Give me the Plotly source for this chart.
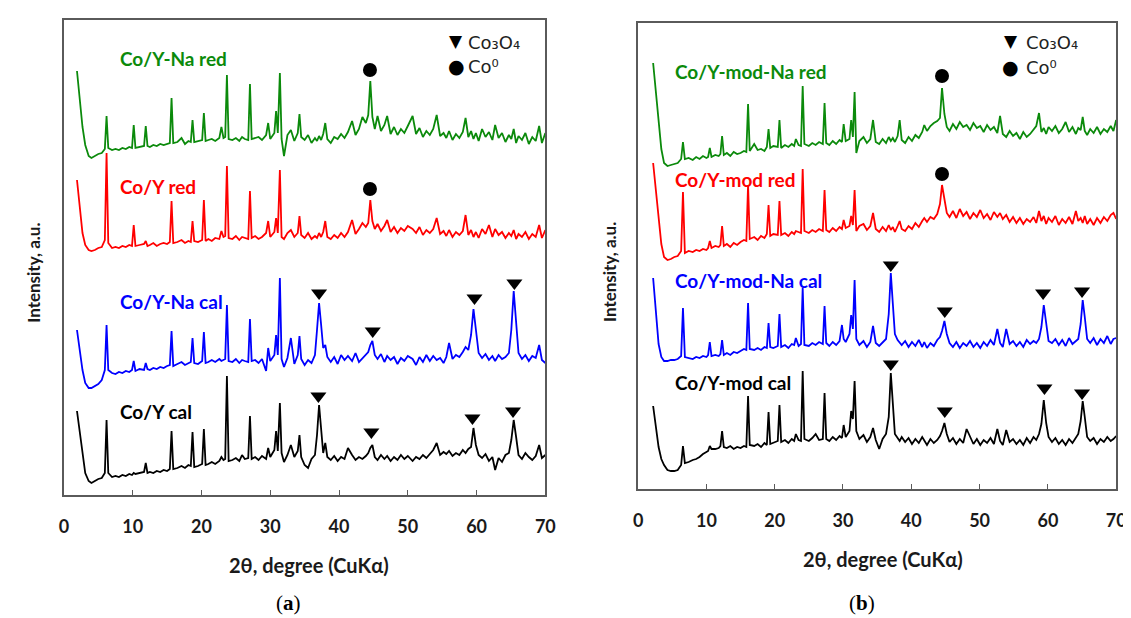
import plotly.graph_objects as go

W, H = 1131, 618

# ---------------- Panel (a) data: 2theta grid and intensities (a.u.) ----------------
two_theta_a = [
    1.9, 2.3, 2.7, 3.1, 3.6, 4.0, 4.5, 5.0, 5.5, 5.95,
    6.2, 6.45, 7.0, 7.5, 8.0, 8.5, 9.0, 9.5, 9.9, 10.15,
    10.4, 11.0, 11.65, 11.9, 12.15, 12.5, 13.0, 13.5, 14.0, 14.5,
    15.0, 15.4, 15.65, 15.9, 16.5, 17.1, 17.6, 18.1, 18.45, 18.7,
    18.95, 19.5, 20.1, 20.35, 20.6, 21.0, 21.5, 22.0, 22.6, 22.9,
    23.2, 23.45, 23.7, 23.95, 24.5, 25.0, 25.5, 25.9, 26.3, 26.8,
    27.05, 27.3, 27.8, 28.3, 28.8, 29.4, 29.7, 30.0, 30.6, 30.85,
    31.1, 31.4, 31.65, 32.0, 32.5, 33.0, 33.5, 34.0, 34.25, 34.5,
    35.0, 35.5, 36.0, 36.5, 36.8, 37.1, 37.4, 37.7, 38.0, 38.3,
    38.8, 39.3, 39.8, 40.3, 40.8, 41.3, 41.9, 42.4, 42.9, 43.4,
    43.9, 44.25, 44.55, 44.85, 45.2, 45.6, 46.1, 46.6, 47.0, 47.5,
    48.0, 48.5, 49.0, 49.5, 50.0, 50.7, 51.2, 51.7, 52.2, 52.7,
    53.2, 53.7, 54.2, 54.7, 55.2, 55.6, 56.0, 56.5, 57.0, 57.5,
    58.0, 58.4, 58.8, 59.2, 59.55, 59.9, 60.3, 60.8, 61.3, 61.8,
    62.3, 62.7, 63.2, 63.7, 64.2, 64.7, 65.05, 65.4, 65.75, 66.1,
    66.6, 67.1, 67.6, 68.1, 68.6, 69.1, 69.5, 70.0,
]
a_na_red = [
    424, 396, 368, 350, 339, 337, 339, 341, 342, 346,
    379, 347, 345, 346, 345, 347, 346, 348, 347, 370,
    347, 348, 349, 369, 349, 348, 350, 349, 351, 350,
    351, 352, 397, 352, 353, 357, 351, 354, 353, 375,
    353, 354, 355, 382, 354, 355, 356, 354, 357, 368,
    357, 358, 420, 356, 355, 357, 354, 358, 356, 355,
    411, 356, 357, 358, 355, 360, 372, 356, 362, 384,
    362, 422, 356, 339, 360, 365, 354, 362, 381, 358,
    355, 360, 352, 357, 354, 359, 355, 361, 372, 356,
    352, 358, 356, 361, 357, 363, 374, 360, 366, 378,
    372, 380, 414, 378, 366, 379, 364, 370, 379, 361,
    368, 360, 366, 362, 369, 379, 361, 367, 358, 364,
    360, 366, 380, 359, 362, 357, 364, 355, 361, 357,
    363, 377, 358, 364, 356, 362, 354, 366, 358, 363,
    355, 370, 357, 362, 353, 360, 356, 366, 352, 359,
    355, 362, 351, 358, 354, 369, 352, 362,
]
a_red = [
    315, 290, 262, 250, 245, 244, 245, 247, 248, 255,
    342, 252, 247, 248, 247, 249, 248, 250, 249, 270,
    249, 250, 251, 254, 249, 250, 252, 249, 251, 252,
    251, 253, 294, 252, 253, 255, 252, 254, 253, 274,
    254, 253, 255, 295, 254, 256, 254, 257, 256, 264,
    258, 259, 329, 257, 256, 259, 255, 258, 257, 256,
    304, 257, 259, 256, 258, 262, 274, 258, 263, 277,
    262, 325, 258, 256, 262, 265, 258, 262, 279, 260,
    257, 262, 256, 259, 257, 262, 258, 263, 274, 258,
    256, 260, 257, 262, 258, 263, 275, 261, 266, 272,
    268, 272, 295, 274, 266, 271, 264, 269, 275, 263,
    268, 262, 267, 264, 269, 266, 262, 268, 260, 265,
    262, 266, 277, 261, 264, 259, 265, 258, 263, 260,
    264, 280, 260, 265, 258, 263, 257, 266, 261, 270,
    258, 266, 260, 263, 257, 262, 259, 265, 256, 261,
    258, 263, 256, 261, 258, 270, 257, 265,
]
a_na_cal = [
    165, 145, 125, 112, 107, 107, 109, 111, 115, 125,
    170, 125, 122, 121, 123, 122, 124, 123, 125, 134,
    124, 126, 125, 132, 126, 125, 127, 126, 128, 127,
    129, 130, 164, 129, 131, 133, 130, 132, 133, 157,
    132, 131, 134, 163, 132, 133, 135, 133, 136, 134,
    135, 136, 190, 134, 133, 136, 132, 135, 134, 133,
    176, 134, 135, 132, 136, 124, 147, 134, 140, 160,
    140, 217, 136, 128, 137, 157, 131, 140, 159, 136,
    130, 135, 132, 140, 165, 192, 170, 147, 150, 138,
    133, 138, 131, 140, 135, 139, 134, 142, 133, 137,
    140, 143, 150, 154, 140, 136, 141, 133, 139, 135,
    138, 131, 137, 134, 139, 136, 130, 138, 133, 140,
    134, 139, 135, 137, 132, 138, 152, 136, 140, 138,
    143, 148, 145, 160, 186, 165, 142, 137, 141, 135,
    139, 134, 140, 136, 138, 142, 165, 204, 170, 142,
    136, 140, 134, 139, 137, 150, 135, 132,
]
a_cal = [
    84, 62, 38, 22, 14, 12, 14, 16, 17, 22,
    75, 22, 18, 19, 18, 20, 19, 21, 20, 22,
    21, 22, 23, 32, 22, 23, 22, 24, 23, 25,
    24, 26, 64, 26, 27, 29, 27, 30, 29, 63,
    28, 29, 31, 66, 30, 31, 33, 31, 34, 38,
    35, 36, 119, 34, 35, 37, 34, 40, 36, 37,
    79, 36, 38, 35, 39, 36, 47, 38, 45, 64,
    44, 92, 42, 33, 40, 50, 38, 44, 60, 38,
    30, 27, 36, 40, 60, 90, 65, 42, 52, 38,
    35, 39, 34, 38, 36, 47, 40, 35, 38, 36,
    39, 42, 47, 50, 38, 35, 40, 36, 39, 34,
    38, 35, 40, 36, 39, 34, 38, 36, 40, 37,
    41, 45, 52, 40, 43, 41, 44, 39, 42, 40,
    45, 42, 46, 48, 67, 50, 40, 37, 41, 34,
    38, 25, 37, 33, 40, 42, 55, 75, 58, 40,
    36, 42, 38, 35, 39, 50, 37, 40,
]

# phase markers, panel (a)
a_co_x = [44.5, 44.5]
a_co_y = [425, 306]
a_co3o4_x = [37.1, 44.9, 59.7, 65.5, 37.0, 44.7, 59.4, 65.3]
a_co3o4_y = [202, 164, 197, 212, 99, 63, 77, 84]

# ---------------- Panel (b) data ----------------
two_theta_b = [
    2.2, 2.6, 3.0, 3.4, 3.8, 4.3, 4.8, 5.3, 5.8, 6.3,
    6.57, 6.85, 7.4, 8.0, 8.5, 9.0, 9.5, 10.0, 10.25, 10.5,
    10.75, 11.3, 11.8, 12.05, 12.3, 12.55, 13.0, 13.5, 14.0, 14.5,
    15.0, 15.5, 15.85, 16.1, 16.35, 17.0, 17.5, 18.0, 18.5, 18.85,
    19.1, 19.35, 19.8, 20.45, 20.7, 20.95, 21.5, 22.0, 22.5, 22.85,
    23.1, 23.5, 23.85, 24.1, 24.35, 25.0, 25.5, 26.0, 26.5, 27.05,
    27.3, 27.55, 28.0, 28.5, 29.0, 29.5, 29.85, 30.1, 30.4, 30.95,
    31.2, 31.45, 31.7, 31.95, 32.4, 33.0, 33.5, 34.0, 34.4, 34.8,
    35.3, 35.8, 36.3, 36.7, 37.0, 37.3, 37.6, 38.0, 38.3, 38.6,
    39.1, 39.6, 40.1, 40.6, 41.1, 41.6, 41.9, 42.3, 42.8, 43.3,
    43.8, 44.2, 44.5, 44.85, 45.2, 45.6, 46.1, 46.6, 47.1, 47.6,
    48.1, 48.6, 49.1, 49.6, 50.1, 50.6, 51.1, 51.6, 52.1, 52.6,
    53.0, 53.4, 53.9, 54.4, 54.9, 55.4, 55.9, 56.4, 56.9, 57.4,
    57.9, 58.3, 58.7, 59.05, 59.4, 59.75, 60.1, 60.6, 61.1, 61.6,
    62.1, 62.6, 63.1, 63.6, 64.1, 64.45, 64.8, 65.1, 65.4, 65.75,
    66.2, 66.7, 67.2, 67.7, 68.2, 68.7, 69.2, 69.6, 70.0,
]
b_mod_na_red = [
    426, 395, 365, 340, 326, 323, 324, 325, 326, 330,
    347, 330, 331, 329, 332, 330, 333, 331, 332, 341,
    332, 334, 333, 335, 353, 334, 336, 333, 337, 335,
    336, 338, 337, 385, 338, 345, 339, 340, 338, 342,
    360, 341, 343, 342, 369, 341, 344, 342, 345, 343,
    350, 344, 343, 403, 345, 343, 346, 344, 347, 345,
    386, 346, 344, 348, 345, 349, 347, 365, 348, 350,
    369, 352, 397, 336, 348, 352, 346, 350, 369, 347,
    345, 350, 346, 352, 348, 351, 347, 353, 369, 349,
    346, 352, 348, 354, 351, 357, 364, 358, 363, 366,
    368, 371, 401, 375, 362, 358, 365, 360, 367, 362,
    364, 359, 366, 361, 363, 357, 364, 359, 362, 356,
    373, 355, 352, 358, 353, 356, 350, 357, 352, 355,
    359, 363, 376, 357, 361, 355, 362, 358, 363, 356,
    360, 367, 357, 362, 355, 361, 359, 372, 358, 354,
    360, 356, 362, 355, 360, 357, 363, 358, 369,
]
b_mod_red = [
    326, 300, 270, 245, 232, 229, 230, 232, 233, 238,
    297, 236, 238, 237, 239, 238, 240, 239, 241, 248,
    241, 243, 242, 244, 263, 243, 245, 242, 246, 244,
    247, 249, 248, 304, 250, 252, 249, 253, 251, 255,
    284, 253, 255, 254, 288, 254, 256, 253, 257, 255,
    258, 257, 256, 320, 258, 256, 259, 257, 260, 258,
    299, 259, 257, 261, 258, 262, 260, 269, 261, 263,
    273, 264, 299, 258, 263, 265, 259, 263, 276, 260,
    257, 262, 258, 264, 259, 262, 257, 263, 268, 260,
    258, 263, 260, 266, 262, 268, 271, 267, 272, 270,
    275, 285, 304, 290, 276, 272, 278, 271, 280, 273,
    277, 270, 276, 272, 279, 271, 275, 269, 277, 272,
    276, 270, 274, 267, 272, 266, 271, 265, 270, 267,
    272, 266, 278, 268, 273, 265, 271, 267, 273, 264,
    270, 266, 272, 265, 278, 268, 271, 266, 273, 265,
    270, 264, 271, 266, 272, 268, 274, 276, 270,
]
b_mod_na_cal = [
    211, 175, 145, 132, 128, 128, 129, 129, 130, 133,
    181, 132, 131, 130, 132, 131, 133, 132, 134, 147,
    133, 134, 133, 135, 149, 134, 136, 134, 137, 136,
    138, 140, 139, 186, 140, 139, 141, 139, 142, 141,
    166, 142, 141, 143, 175, 142, 144, 141, 145, 144,
    151, 143, 145, 201, 144, 143, 146, 144, 147, 145,
    183, 146, 143, 147, 144, 148, 164, 150, 147, 155,
    174, 160, 209, 150, 144, 148, 142, 147, 163, 146,
    143, 147, 150, 175, 216, 185, 155, 149, 146, 144,
    148, 142, 147, 143, 149, 142, 147, 141, 146, 143,
    149, 152, 158, 168, 155, 146, 142, 147, 141, 146,
    143, 148, 142, 146, 141, 147, 143, 149, 144, 160,
    146, 142, 160, 145, 148, 143, 147, 142, 149, 145,
    148, 146, 150, 162, 184, 165, 148, 146, 150, 144,
    149, 143, 151, 145, 148, 150, 165, 189, 172, 150,
    146, 151, 144, 150, 146, 153, 145, 150, 151,
]
b_mod_cal = [
    83, 62, 42, 30, 24, 19, 18, 18, 19, 24,
    43, 26, 27, 29, 30, 32, 35, 37, 38, 43,
    40, 40, 41, 43, 58, 42, 41, 43, 40, 42,
    41, 43, 42, 93, 44, 43, 45, 42, 46, 44,
    77, 45, 46, 48, 84, 47, 49, 46, 50, 48,
    55, 49, 48, 118, 50, 48, 51, 55, 49, 50,
    96, 50, 48, 52, 49, 53, 51, 64, 52, 58,
    78, 70, 108, 58, 50, 54, 47, 52, 61, 49,
    40, 50, 55, 72, 116, 85, 55, 51, 48, 52,
    47, 51, 45, 50, 46, 52, 48, 44, 50, 46,
    49, 53, 58, 66, 55, 47, 51, 45, 50, 46,
    60, 52, 45, 50, 44, 49, 46, 51, 45, 60,
    48, 44, 59, 47, 50, 45, 49, 44, 51, 46,
    52, 49, 55, 65, 89, 66, 52, 47, 51, 45,
    49, 44, 50, 46, 51, 55, 68, 88, 72, 52,
    48, 51, 45, 50, 47, 52, 48, 50, 53,
]

b_co_x = [44.5, 44.5]
b_co_y = [413, 315]
b_co3o4_x = [37.0, 44.9, 59.3, 65.0, 37.0, 44.9, 59.5, 65.0]
b_co3o4_y = [224, 178, 196, 198, 125, 78, 101, 96]

for ys in (a_na_red, a_red, a_na_cal, a_cal):
    assert len(ys) == len(two_theta_a), len(ys)
for ys in (b_mod_na_red, b_mod_red, b_mod_na_cal, b_mod_cal):
    assert len(ys) == len(two_theta_b), len(ys)

GREEN, RED, BLUE, BLACK = "#0b8a0b", "#ff0000", "#0000ff", "#000000"

fig = go.Figure()

def add_line(x, y, color, ax):
    fig.add_trace(go.Scatter(x=x, y=y, mode="lines", line=dict(color=color, width=1.8),
                             xaxis="x" if ax == 1 else "x2", yaxis="y" if ax == 1 else "y2",
                             showlegend=False, hoverinfo="skip"))

add_line(two_theta_a, a_na_red, GREEN, 1)
add_line(two_theta_a, a_red, RED, 1)
add_line(two_theta_a, a_na_cal, BLUE, 1)
add_line(two_theta_a, a_cal, BLACK, 1)
add_line(two_theta_b, b_mod_na_red, GREEN, 2)
add_line(two_theta_b, b_mod_red, RED, 2)
add_line(two_theta_b, b_mod_na_cal, BLUE, 2)
add_line(two_theta_b, b_mod_cal, BLACK, 2)

def add_markers(x, y, symbol, ax):
    fig.add_trace(go.Scatter(x=x, y=y, mode="markers",
                             marker=dict(symbol=symbol, size=14, color="black"),
                             xaxis="x" if ax == 1 else "x2", yaxis="y" if ax == 1 else "y2",
                             showlegend=False, hoverinfo="skip"))

add_markers(a_co_x, a_co_y, "circle", 1)
add_markers(a_co3o4_x, a_co3o4_y, "triangle-down", 1)
add_markers(b_co_x, b_co_y, "circle", 2)
add_markers(b_co3o4_x, b_co3o4_y, "triangle-down", 2)

FRAME = "#5a5a5a"
tickfont = dict(family="Lato", size=18, color="#1a1a1a", weight="bold")

def xaxis_cfg(domain):
    return dict(domain=domain, range=[0, 70], tickvals=[0, 10, 20, 30, 40, 50, 60, 70],
                ticks="inside", ticklen=5, tickwidth=1.2, tickcolor=FRAME,
                showline=True, mirror=True, linecolor=FRAME, linewidth=1.6,
                showgrid=False, zeroline=False, tickfont=tickfont, ticklabelstandoff=15)

def yaxis_cfg(domain, rng, anchor):
    return dict(domain=domain, range=rng, showticklabels=False, ticks="",
                showline=True, mirror=True, linecolor=FRAME, linewidth=1.6,
                showgrid=False, zeroline=False, anchor=anchor)

xa = xaxis_cfg([51.6 / W, 539.5 / W]); xa["anchor"] = "y"
xb = xaxis_cfg([633.5 / W, 1118 / W]); xb["anchor"] = "y2"

def P(px, py):
    return px / W, 1 - py / H

ann = []

def text(s, px, py, size=19, color="#000", xanchor="center", family="Lato", bold=True, angle=0):
    x, y = P(px, py)
    ann.append(dict(text=s, x=x, y=y, xref="paper", yref="paper", xanchor=xanchor,
                    yanchor="middle", showarrow=False, textangle=angle,
                    font=dict(family=family, size=size, color=color,
                              weight="bold" if bold else "normal")))

# sample labels
text("Co/Y-Na red", 106, 50, color=GREEN, xanchor="left")
text("Co/Y red", 106, 179, color=RED, xanchor="left")
text("Co/Y-Na cal", 106, 293, color=BLUE, xanchor="left")
text("Co/Y cal", 106, 403, color=BLACK, xanchor="left")
text("Co/Y-mod-Na red", 669, 64, color=GREEN, xanchor="left")
text("Co/Y-mod red", 669, 171, color=RED, xanchor="left")
text("Co/Y-mod-Na cal", 669, 272, color=BLUE, xanchor="left")
text("Co/Y-mod cal", 669, 375, color=BLACK, xanchor="left")

# legends
for (tx, gx, ty1, ty2) in [(459, 449, 33, 58), (1025, 1011, 33, 59)]:
    text("▼", gx, ty1, size=17, family="DejaVu Sans", bold=False)
    text("●", gx, ty2, size=19, family="DejaVu Sans", bold=False)
    text("Co₃O₄", tx, ty1 + 1, size=18, color="#222", xanchor="left",
         family="DejaVu Sans", bold=False)
    text("Co⁰", tx, ty2, size=18, color="#222", xanchor="left",
         family="DejaVu Sans", bold=False)

# axis titles
text("Intensity, a.u.", 20, 265, size=17, color="#1a1a1a", angle=-90)
text("Intensity, a.u.", 604, 264, size=17, color="#1a1a1a", angle=-90)
text("2θ, degree (CuKα)", 300, 557, size=20, color="#1a1a1a")
text("2θ, degree (CuKα)", 882, 551, size=20, color="#1a1a1a")

# panel labels
text("(<b>a</b>)", 279, 595, size=21, family="Liberation Serif", bold=False)
text("(<b>b</b>)", 860, 595, size=21, family="Liberation Serif", bold=False)

fig.update_layout(
    width=W, height=H, margin=dict(l=0, r=0, t=0, b=0),
    paper_bgcolor="white", plot_bgcolor="white",
    xaxis=xa, xaxis2=xb,
    yaxis=yaxis_cfg([1 - 487 / H, 1 - 12 / H], [0, 475], "x"),
    yaxis2=yaxis_cfg([1 - 481 / H, 1 - 15 / H], [0, 466], "x2"),
    annotations=ann, showlegend=False,
)

fig.write_html("out.html")
